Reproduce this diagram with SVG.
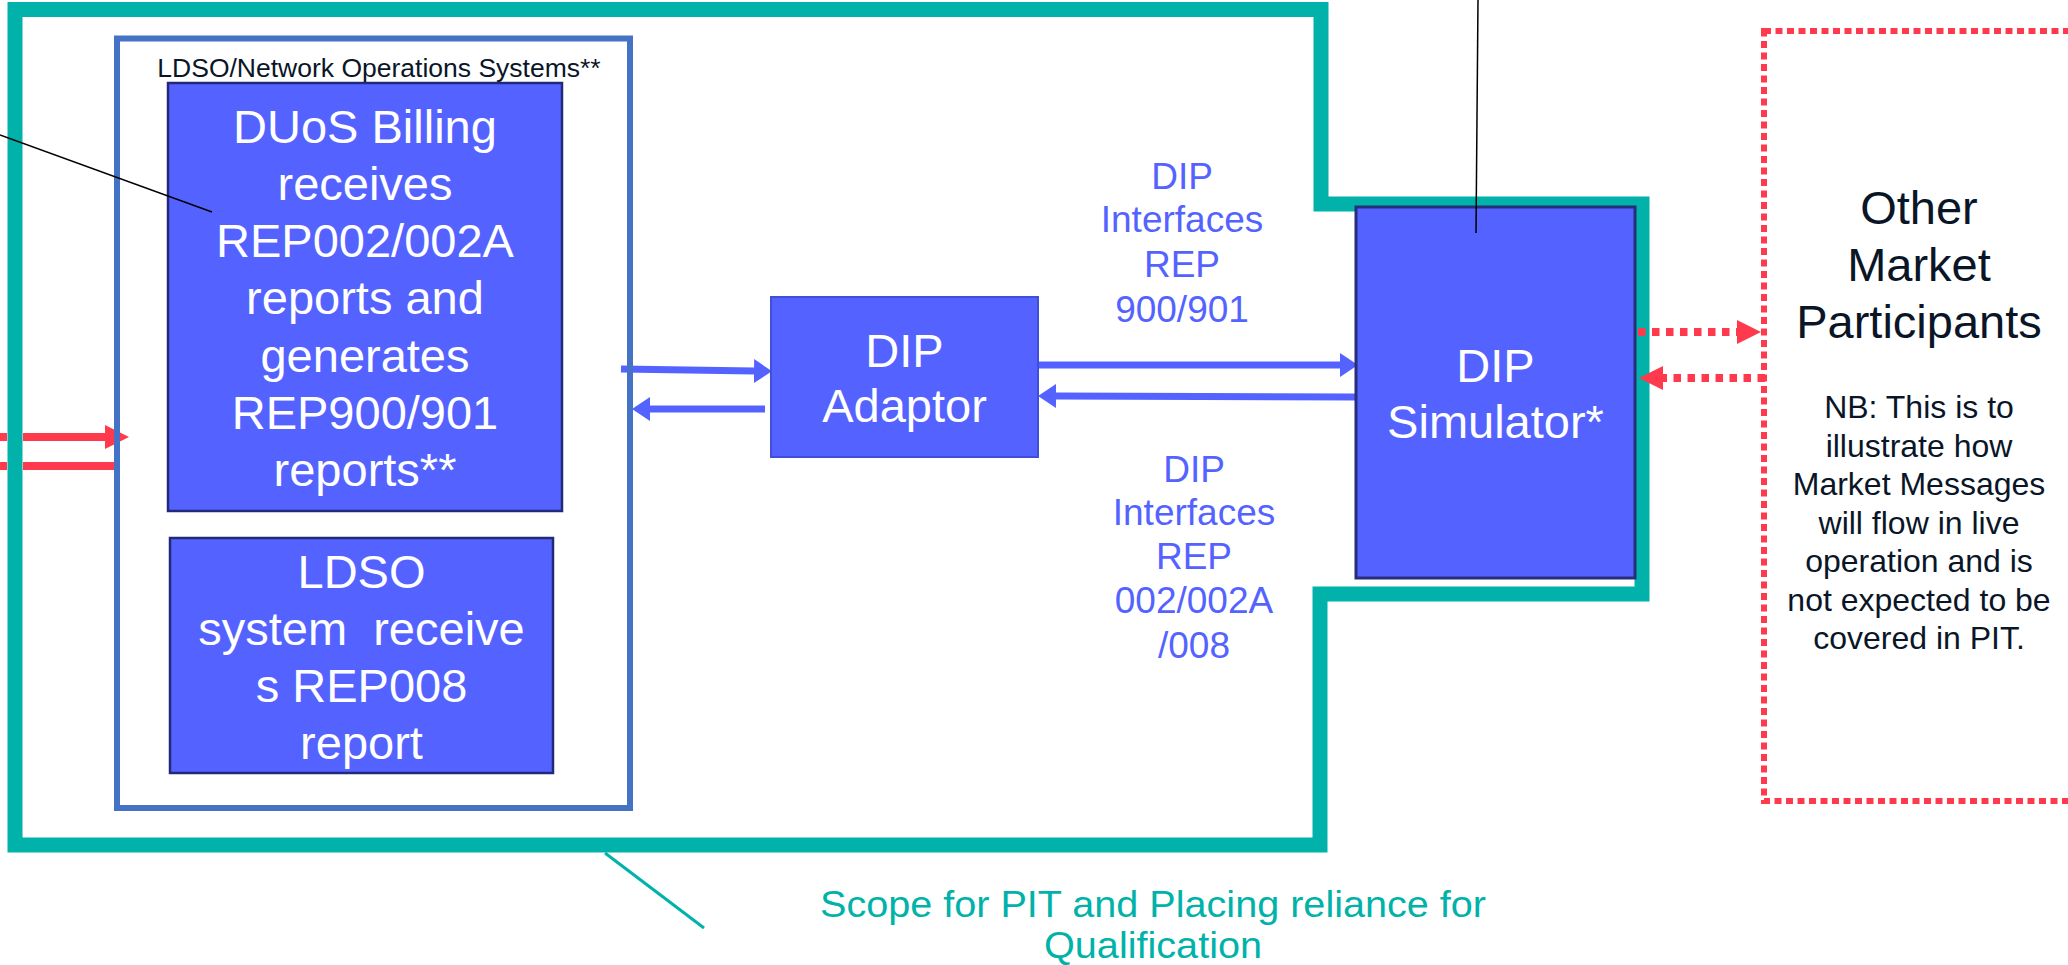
<svg xmlns="http://www.w3.org/2000/svg" width="2068" height="965" viewBox="0 0 2068 965">
<style>
text{font-family:"Liberation Sans",Arial,sans-serif;text-anchor:middle}
.box{fill:#5463FF;stroke:#22297A;stroke-width:2.5}
.wt{fill:#FFFFFF;font-size:47px}
.lbl{fill:#5463FF;font-size:37px}
.blue{stroke:#5463FF;stroke-width:7;fill:none}
.red{stroke:#FF3A4C;stroke-width:8;fill:none}
.reddot{stroke:#FF3A4C;stroke-width:8;fill:none;stroke-dasharray:7.5 6.5}
.call{stroke:#000000;stroke-width:1.5;fill:none}
.dk{fill:#0A1628}
.sc{fill:#00B2A9;font-size:36px}
</style>
<defs>
<marker id="hb" markerUnits="userSpaceOnUse" markerWidth="18" markerHeight="24" viewBox="0 0 18 24" refX="0" refY="12" orient="auto"><path d="M0,0 L18,12 L0,24 Z" fill="#5463FF"/></marker>
<marker id="hr" markerUnits="userSpaceOnUse" markerWidth="24" markerHeight="24" viewBox="0 0 24 24" refX="0" refY="12" orient="auto"><path d="M0,0 L24,12 L0,24 Z" fill="#FF3A4C"/></marker>
</defs>
<rect x="0" y="0" width="2068" height="965" fill="#FFFFFF"/>
<g id="scope">
<path d="M15,9.5 H1321 V204 H1642 V594 H1320 V845 H15 Z" fill="none" stroke="#00B2A9" stroke-width="15"/>
<line x1="605" y1="853" x2="704" y2="928" stroke="#00B2A9" stroke-width="3"/>
<text class="sc" x="1153" y="917" textLength="666" lengthAdjust="spacingAndGlyphs">Scope for PIT and Placing reliance for</text>
<text class="sc" x="1153" y="958" textLength="218" lengthAdjust="spacingAndGlyphs">Qualification</text>
</g>
<g id="connectors">
<path class="red" d="M0,437 H7 M23,437 H105" marker-end="url(#hr)"/>
<path class="red" d="M0,466 H7 M23,466 H114"/>
<path class="blue" d="M621,369 L754,371" marker-end="url(#hb)"/>
<path class="blue" d="M765,409 L650,409" marker-end="url(#hb)"/>
<path class="blue" d="M1038,365 L1340,365" marker-end="url(#hb)"/>
<path class="blue" d="M1355,397 L1056,396" marker-end="url(#hb)"/>
<path class="reddot" d="M1638,332 L1737,332" marker-end="url(#hr)"/>
<path class="reddot" d="M1765,378 L1663,378" marker-end="url(#hr)"/>
</g>
<g id="ldso-network">
<rect x="117" y="38.5" width="513" height="769.5" fill="none" stroke="#4472C4" stroke-width="6"/>
<text x="379" y="77" font-size="26.5" fill="#0A1628">LDSO/Network Operations Systems**</text>
</g>
<g id="duos-billing">
<rect class="box" x="168" y="83" width="394" height="428"/>
<text class="wt" x="365" y="143">DUoS Billing</text>
<text class="wt" x="365" y="200">receives</text>
<text class="wt" x="365" y="257">REP002/002A</text>
<text class="wt" x="365" y="314">reports and</text>
<text class="wt" x="365" y="372">generates</text>
<text class="wt" x="365" y="429">REP900/901</text>
<text class="wt" x="365" y="486">reports**</text>
</g>
<g id="ldso-system">
<rect class="box" x="170" y="538" width="383" height="235"/>
<text class="wt" x="361.5" y="588">LDSO</text>
<text class="wt" x="361.5" y="645" style="white-space:pre">system  receive</text>
<text class="wt" x="361.5" y="702">s REP008</text>
<text class="wt" x="361.5" y="759">report</text>
</g>
<g id="dip-adaptor">
<rect x="771" y="297" width="267" height="160" fill="#5463FF" stroke="#3F4FD9" stroke-width="2"/>
<text class="wt" x="904.5" y="367">DIP</text>
<text class="wt" x="904.5" y="422">Adaptor</text>
</g>
<g id="dip-simulator">
<rect x="1356" y="207" width="279" height="371" fill="#5463FF" stroke="#262E7A" stroke-width="3"/>
<text class="wt" x="1495.5" y="382">DIP</text>
<text class="wt" x="1495.5" y="438">Simulator*</text>
</g>
<g id="label-900">
<text class="lbl" x="1182" y="189">DIP</text>
<text class="lbl" x="1182" y="232">Interfaces</text>
<text class="lbl" x="1182" y="277">REP</text>
<text class="lbl" x="1182" y="322">900/901</text>
</g>
<g id="label-002">
<text class="lbl" x="1194" y="482">DIP</text>
<text class="lbl" x="1194" y="525">Interfaces</text>
<text class="lbl" x="1194" y="569">REP</text>
<text class="lbl" x="1194" y="613">002/002A</text>
<text class="lbl" x="1194" y="658">/008</text>
</g>
<g id="other-market">
<rect x="1764" y="31" width="400" height="770" fill="none" stroke="#FF3A4C" stroke-width="6" stroke-dasharray="7 4.5"/>
<text class="dk" x="1919" y="224" font-size="47">Other</text>
<text class="dk" x="1919" y="281" font-size="47">Market</text>
<text class="dk" x="1919" y="338" font-size="47">Participants</text>
<text class="dk" x="1919" y="418" font-size="32">NB: This is to</text>
<text class="dk" x="1919" y="456.5" font-size="32">illustrate how</text>
<text class="dk" x="1919" y="495" font-size="32">Market Messages</text>
<text class="dk" x="1919" y="533.5" font-size="32">will flow in live</text>
<text class="dk" x="1919" y="572" font-size="32">operation and is</text>
<text class="dk" x="1919" y="610.5" font-size="32">not expected to be</text>
<text class="dk" x="1919" y="649" font-size="32">covered in PIT.</text>
</g>
<g id="callouts">
<line class="call" x1="0" y1="135" x2="212" y2="212"/>
<line class="call" x1="1478" y1="0" x2="1476" y2="233"/>
</g>
</svg>
